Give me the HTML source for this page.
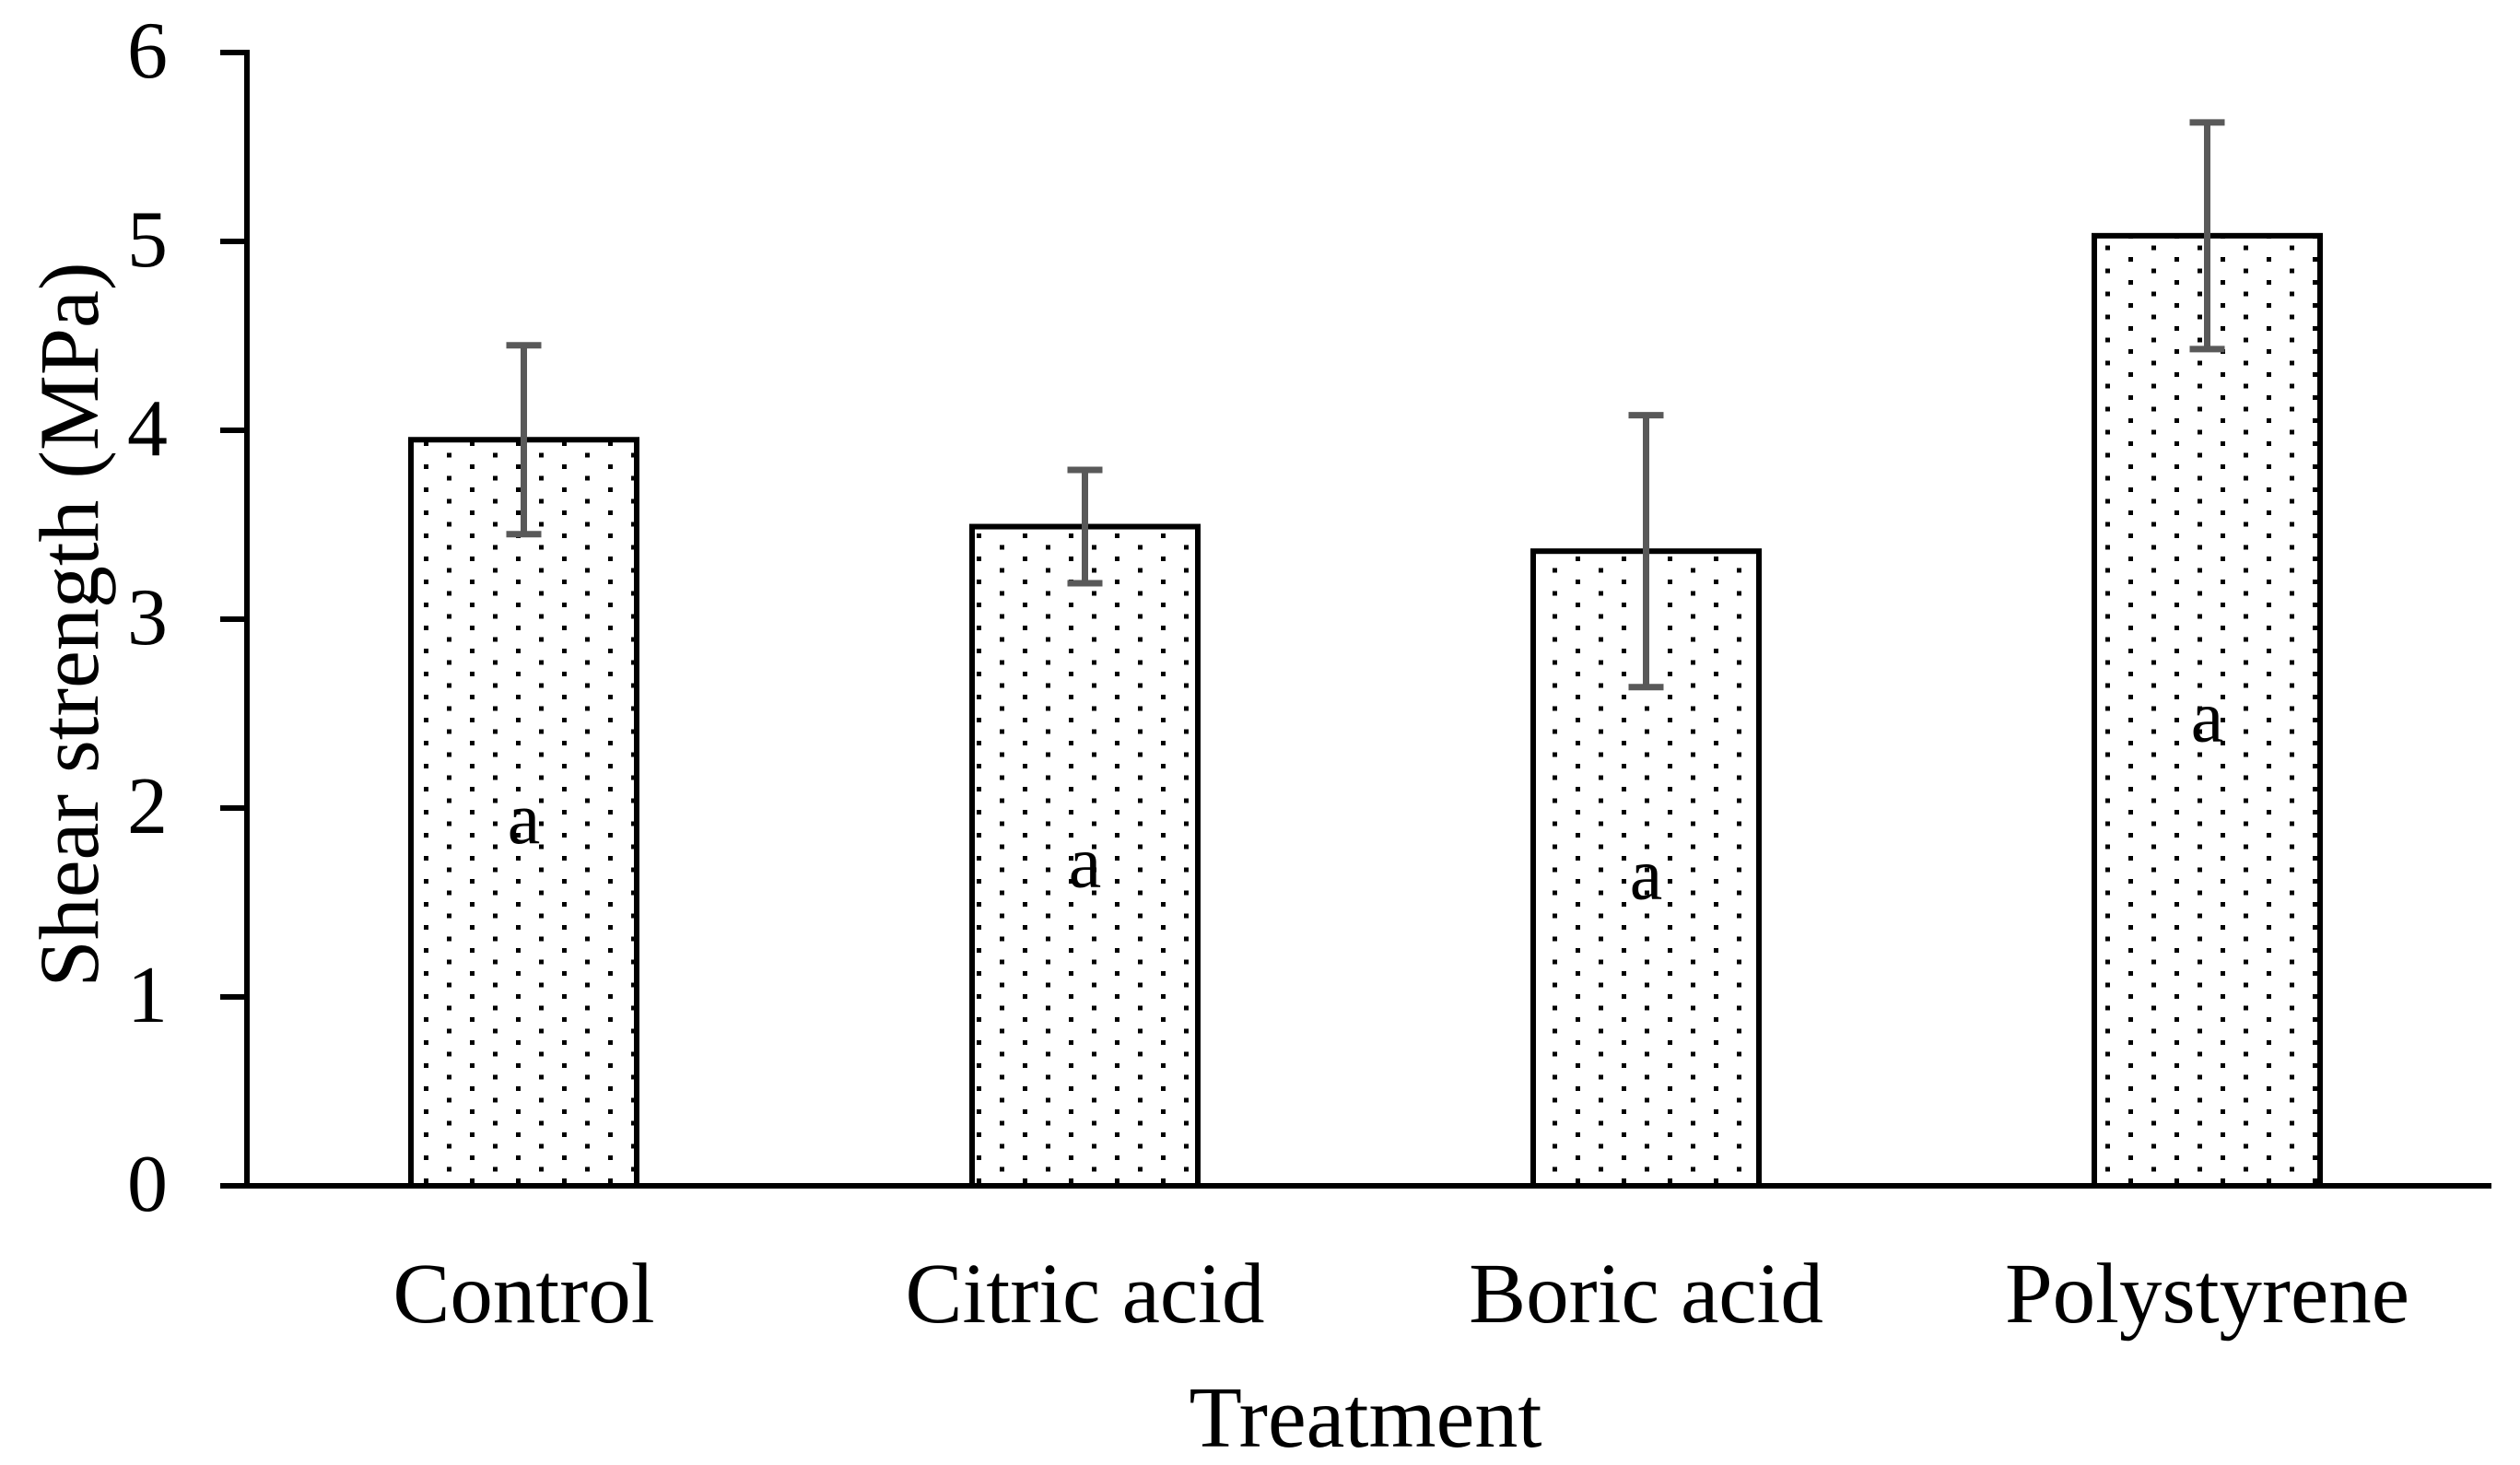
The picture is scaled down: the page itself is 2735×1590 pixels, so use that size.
<!DOCTYPE html>
<html><head><meta charset="utf-8"><style>
html,body{margin:0;padding:0;background:#fff;}
svg{display:block;font-family:"Liberation Serif",serif;}
</style></head><body>
<svg id="chart" width="2735" height="1590" viewBox="0 0 2735 1590" xmlns="http://www.w3.org/2000/svg">
<defs>
<pattern id="dots" patternUnits="userSpaceOnUse" width="50" height="25" x="0" y="0">
<rect x="10" y="4" width="5" height="5" fill="#000"/>
<rect x="35" y="16.5" width="5" height="5" fill="#000"/>
</pattern>
</defs>
<g id="plot"></g>
</svg>
<script>
const categories = ["Control", "Citric acid", "Boric acid", "Polystyrene"];
const means = [3.95, 3.49, 3.36, 5.03];
const errors = [0.50, 0.30, 0.72, 0.60];
const letters = ["a", "a", "a", "a"];
const yTicks = [0, 1, 2, 3, 4, 5, 6];

const NS = "http://www.w3.org/2000/svg";
const X0 = 268, X1 = 2704, Y0 = 1287, Y6 = 57, YMAX = 6;
const band = (X1 - X0) / categories.length;
const barW = 245;
function yScale(v){ return Y0 - (v / YMAX) * (Y0 - Y6); }
function xCenter(i){ return X0 + band * (i + 0.5) - 4; }
const g = document.getElementById('plot');
function mk(tag, attrs, parent){
  const e = document.createElementNS(NS, tag);
  for (const k in attrs) e.setAttribute(k, attrs[k]);
  (parent || g).appendChild(e);
  return e;
}

categories.forEach((c, i) => {
  const cx = xCenter(i), top = yScale(means[i]);
  const bar = mk('rect', {x: cx - barW/2, y: top, width: barW, height: Y0 - top, fill: 'url(#dots)', stroke: '#000', 'stroke-width': 6});
  
  
  const eg = mk('g', {stroke: '#595959', 'stroke-width': 7});
  
  
  const hi = yScale(means[i] + errors[i]), lo = yScale(means[i] - errors[i]);
  mk('line', {x1: cx, x2: cx, y1: hi, y2: lo}, eg);
  mk('line', {x1: cx - 19, x2: cx + 19, y1: hi, y2: hi}, eg);
  mk('line', {x1: cx - 19, x2: cx + 19, y1: lo, y2: lo}, eg);
  const lt = mk('text', {x: cx, y: yScale(means[i] / 2) + 33, 'font-size': 80, 'text-anchor': 'middle', fill: '#000'});
  lt.textContent = letters[i];
  
  
  const cl = mk('text', {x: cx, y: 1435, 'font-size': 93, 'text-anchor': 'middle', fill: '#000'});
  cl.textContent = c;
  
  
});

const ax = mk('g', {stroke: '#000', 'stroke-width': 6});


mk('line', {x1: X0, x2: X0, y1: Y6 - 3, y2: Y0}, ax);
mk('line', {x1: 239, x2: X1, y1: Y0, y2: Y0}, ax);
yTicks.forEach(t => {
  const y = yScale(t);
  mk('line', {x1: 239, x2: X0, y1: y, y2: y}, ax);
  const tl = mk('text', {x: 182, y: y + 27, 'font-size': 88, 'text-anchor': 'end', fill: '#000'});
  tl.textContent = t;
  
  
});

const xt = mk('text', {x: 1482, y: 1570, 'font-size': 94, 'text-anchor': 'middle', fill: '#000'});
xt.textContent = 'Treatment';


const yt = mk('text', {x: 0, y: 0, 'font-size': 92, 'text-anchor': 'middle', fill: '#000', transform: 'translate(106,678) rotate(-90)'});
yt.textContent = 'Shear strength (MPa)';


</script>
</body></html>
